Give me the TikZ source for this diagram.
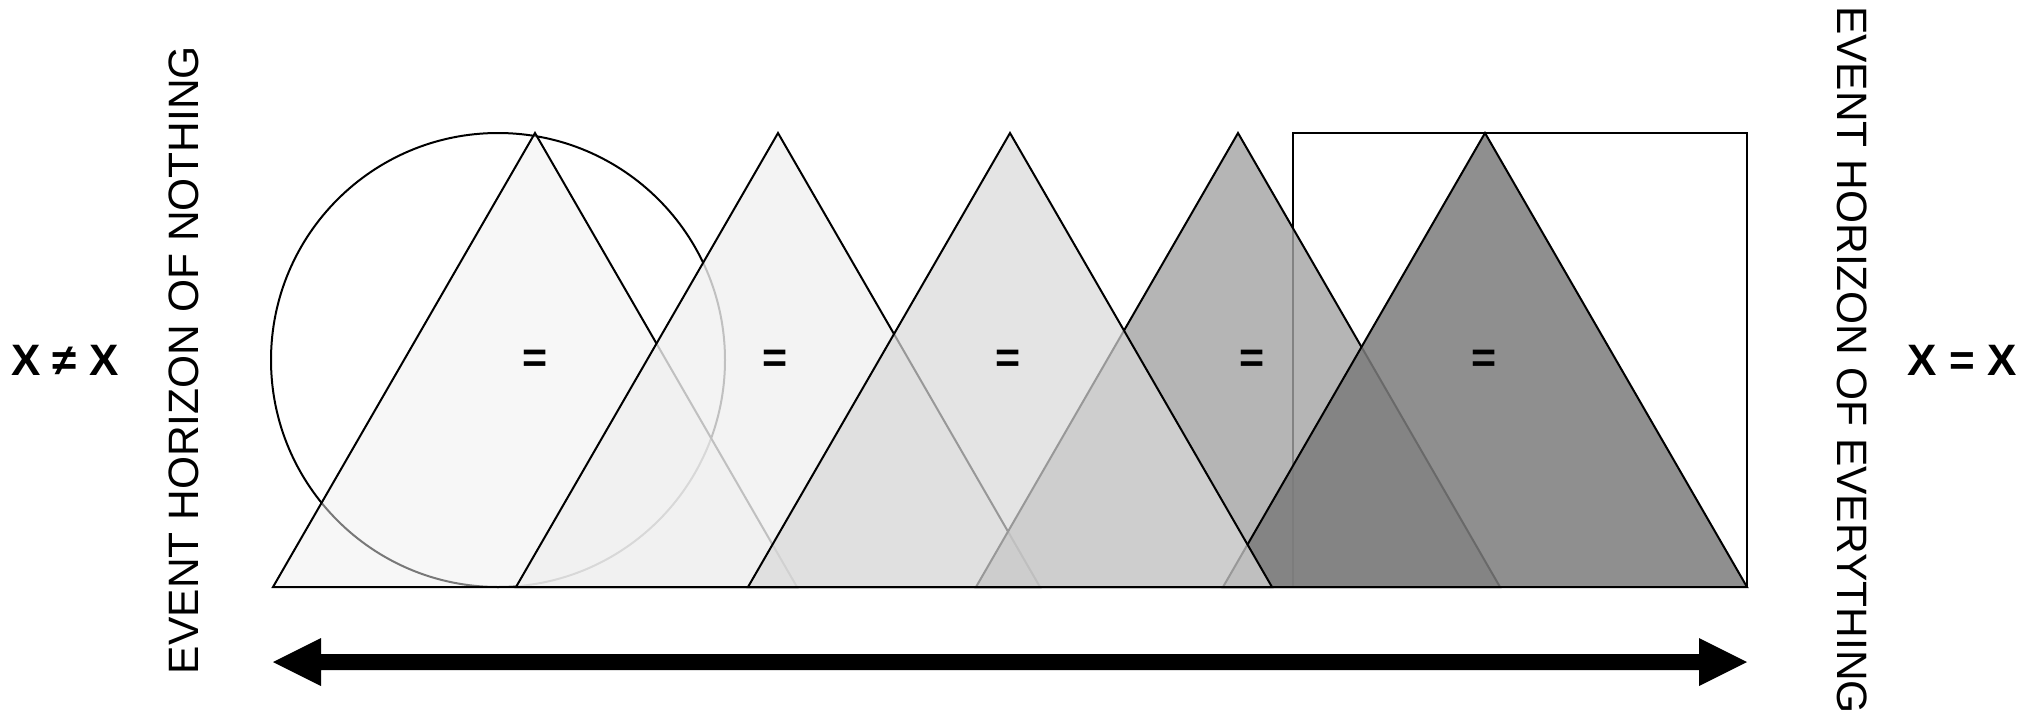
\documentclass[tikz,border=0pt]{standalone}
\usepackage{fontspec}
\setmainfont{Liberation Sans}
\usetikzlibrary{calc}
\definecolor{fillA}{gray}{0.941}
\definecolor{fillB}{gray}{0.941}
\definecolor{fillC}{gray}{0.851}
\definecolor{fillD}{gray}{0.639}
\definecolor{fillE}{gray}{0.486}
\begin{document}
\begin{tikzpicture}[x=1pt,y=-1pt,
  edge/.style={draw=black,line width=2pt,line join=miter},
  eqlabel/.style={font=\fontsize{43}{43}\selectfont\bfseries,inner sep=0pt},
  sidelabel/.style={font=\fontsize{44}{44}\selectfont\bfseries,inner sep=0pt},
  vtext/.style={font=\fontsize{42.5}{42.5}\selectfont,inner sep=0pt},
  bigarrow/.style={fill=black}
]
\useasboundingbox (0,0) rectangle (2035,713);

% circle (bottom layer)
\draw[edge,fill=white] (498,360) circle[radius=227];

% triangle 1
\coordinate (t1L) at (273,587); \coordinate (t1A) at (535,133); \coordinate (t1R) at (797,587);
\filldraw[edge,fill=fillA,fill opacity=0.5] (t1L) -- (t1A) -- (t1R) -- cycle;
% triangle 2
\coordinate (t2L) at (516,587); \coordinate (t2A) at (778,133); \coordinate (t2R) at (1040,587);
\filldraw[edge,fill=fillB,fill opacity=0.8] (t2L) -- (t2A) -- (t2R) -- cycle;
% square
\draw[edge,fill=white] (1293,133) rectangle (1747,587);
% triangle 4
\coordinate (t4L) at (976,587); \coordinate (t4A) at (1238,133); \coordinate (t4R) at (1500,587);
\filldraw[edge,fill=fillD,fill opacity=0.8] (t4L) -- (t4A) -- (t4R) -- cycle;
% triangle 5
\coordinate (t5L) at (1223,587); \coordinate (t5A) at (1485,133); \coordinate (t5R) at (1747,587);
\filldraw[edge,fill=fillE,fill opacity=0.85] (t5L) -- (t5A) -- (t5R) -- cycle;
% triangle 3 (top layer)
\coordinate (t3L) at (748,587); \coordinate (t3A) at (1010,133); \coordinate (t3R) at (1272,587);
\filldraw[edge,fill=fillC,fill opacity=0.7] (t3L) -- (t3A) -- (t3R) -- cycle;

% equal signs
\node[eqlabel] (e1) at (535,361) {=};
\node[eqlabel] (e2) at (775,361) {=};
\node[eqlabel] (e3) at (1008,361) {=};
\node[eqlabel] (e4) at (1252,361) {=};
\node[eqlabel] (e5) at (1484,361) {=};

% side labels
\node[sidelabel] (neq) at (65,360) {X ≠ X};
\node[sidelabel] (eq) at (1962,360) {X = X};
\node[vtext,rotate=90] (nothing) at (184,360) {EVENT HORIZON OF NOTHING};
\node[vtext,rotate=-90] (everything) at (1852,360) {EVENT HORIZON OF EVERYTHING};

% double arrow
\coordinate (aL) at (273,662);
\coordinate (aR) at (1747,662);
\fill[bigarrow] (aL) -- ($(aL)+(48,-24)$) -- ($(aL)+(48,-8)$) -- ($(aR)+(-48,-8)$)
  -- ($(aR)+(-48,-24)$) -- (aR) -- ($(aR)+(-48,24)$) -- ($(aR)+(-48,8)$)
  -- ($(aL)+(48,8)$) -- ($(aL)+(48,24)$) -- cycle;
\end{tikzpicture}
\end{document}
